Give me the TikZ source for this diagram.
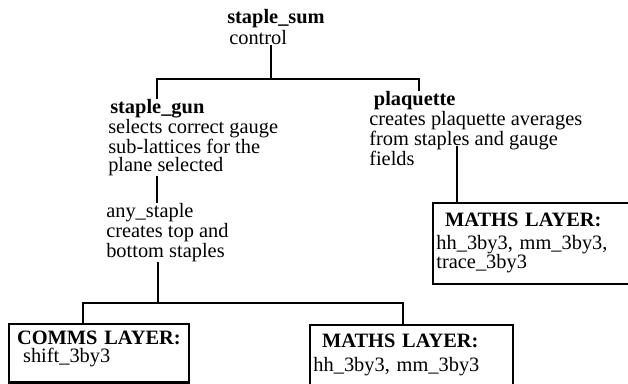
\documentclass[tikz,border=0pt]{standalone}
\usepackage{fontspec}
\setmainfont{Liberation Serif}
\newcommand{\hstr}[1]{\rule{0pt}{#1}}
\newcommand{\dstr}[1]{\rule[-#1]{0pt}{#1}}
\begin{document}
\begin{tikzpicture}[x=0.75pt,y=-0.75pt,
  txt/.style={anchor=north west, inner sep=0pt, align=left,
    font=\fontsize{15.3pt}{13.8pt}\selectfont},
  layerbox/.style={draw, line width=1.6pt, anchor=north west, inner ysep=0pt,
    align=left, font=\fontsize{15.3pt}{13.8pt}\selectfont},
  link/.style={line width=1.4pt}]
\useasboundingbox (0,0) rectangle (628,383);
\clip (0,0) rectangle (628,383);

% text nodes
\node[txt] (sum) at (227,8.9) {\hstr{10.6pt}\textbf{staple\_sum}\\[1.2pt]\hspace{1.5pt}control};
\node[txt] (gun) at (108,98.9) {\hstr{10.6pt}\hspace{1.5pt}\textbf{staple\_gun}\\selects correct gauge\\sub-lattices for the\\plane selected};
\node[txt] (any) at (106,203) {\hstr{10.6pt}any\_staple\\creates top and\\bottom staples};
\node[txt] (plaq) at (369,90.9) {\hstr{10.6pt}\hspace{3.5pt}\textbf{plaquette}\\creates plaquette averages\\from staples and gauge\\fields};

% layer boxes
\node[layerbox, inner xsep=4.5pt, text width=126pt] (comms) at (8,323)
  {\hstr{15pt}\hspace{1.5pt}\textbf{COMMS LAYER:}\\\hspace{6pt}shift\_3by3\dstr{15pt}};
\node[layerbox, inner xsep=2.5pt, text width=147pt] (maths) at (309,324)
  {\hstr{16.5pt}\hspace{6.5pt}\textbf{MATHS LAYER:}\\[4.2pt]hh\_3by3, mm\_3by3\dstr{25pt}};
\node[layerbox, inner xsep=2.5pt, text width=170pt] (rmaths) at (432,202)
  {\hstr{17.2pt}\hspace{6.5pt}\textbf{MATHS LAYER:}\\[3.5pt]hh\_3by3, mm\_3by3,\\trace\_3by3\dstr{11pt}};

% junction coordinates
\coordinate (jtop) at (271,79);
\coordinate (tl) at (157,79);
\coordinate (tr) at (419,79);
\coordinate (jg) at (157,0);
\coordinate (bm) at (158,303);
\coordinate (bl) at (83,303);
\coordinate (br) at (403,303);
\coordinate (pl) at (457,146);

% connectors
\draw[link] (sum.south -| jtop) -- (jtop);
\draw[link] (gun.north -| tl) -- (tl) -- (tr) -- (plaq.north -| tr);
\draw[link] (gun.south -| jg) -- (any.north -| jg);
\draw[link] (any.south -| bm) -- (bm);
\draw[link] (comms.north -| bl) -- (bl) -- (br) -- (maths.north -| br);
\draw[link] (pl) -- (rmaths.north -| pl);
\end{tikzpicture}
\end{document}
